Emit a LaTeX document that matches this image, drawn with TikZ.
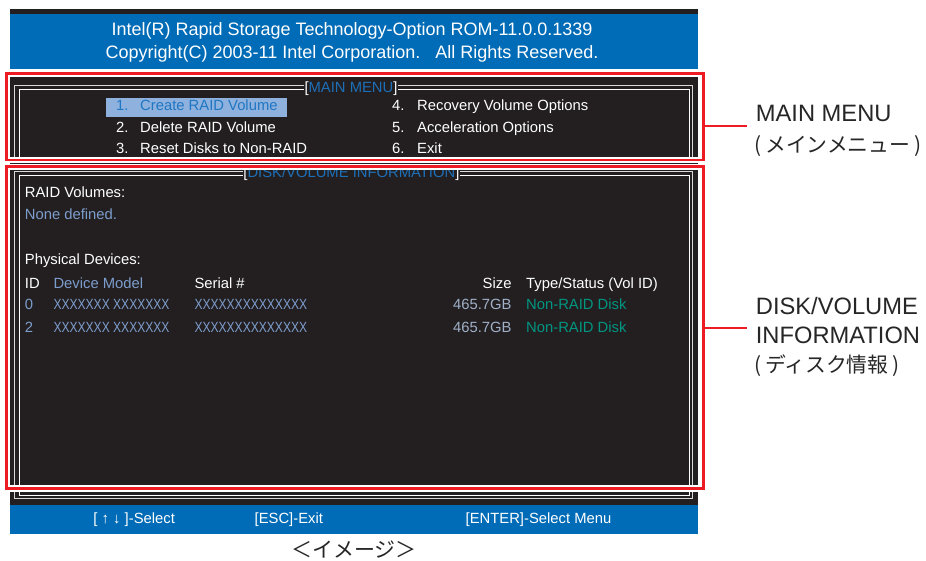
\documentclass[tikz,border=0pt]{standalone}
\usepackage{fontspec}
\setmainfont{Liberation Sans}
\newfontfamily\jpfont{Noto Sans CJK JP}
\usepackage{graphicx}
\usepackage{xcolor}
\usepackage{tikz}

\definecolor{biosblue}{RGB}{0,107,182}
\definecolor{biosdark}{RGB}{35,31,32}
\definecolor{boxred}{RGB}{237,28,36}
\definecolor{titleblue}{RGB}{29,111,184}
\definecolor{hilite}{RGB}{142,177,221}
\definecolor{hilitetext}{RGB}{31,119,196}
\definecolor{steel}{RGB}{125,157,205}
\definecolor{sizegray}{RGB}{160,176,200}
\definecolor{teal}{RGB}{0,150,130}

\newcommand{\xxx}[1]{\scalebox{0.815}[1]{#1}}
\newcommand{\jpparen}[1]{(\kern4pt#1\kern4pt)}

\begin{document}
\begin{tikzpicture}[x=1pt,y=-1pt,
  hdrtext/.style={text=white,font=\fontsize{18}{20}\selectfont,inner sep=0pt,anchor=base},
  scr/.style={text=white,font=\fontsize{14.8}{17}\selectfont,inner sep=0pt,anchor=base west},
  scrblue/.style={scr,text=steel},
  wintitle/.style={fill=biosdark,text=white,font=\fontsize{14.8}{17}\selectfont,inner xsep=0.6pt,inner ysep=0pt,anchor=base},
  keytext/.style={text=white,font=\fontsize{14.8}{17}\selectfont,inner sep=0pt,anchor=base},
  frameout/.style={draw=white!70!gray,line width=0.9pt},
  framein/.style={draw=white,line width=0.9pt},
  redbox/.style={draw=boxred,line width=2.6pt,preaction={draw=white,line width=6.5pt},minimum width=696.7pt,inner sep=0pt},
  redline/.style={draw=boxred,line width=2.2pt},
  callout/.style={text=black!85,font=\fontsize{23.7}{28}\selectfont,inner sep=0pt,anchor=base west},
  calloutjp/.style={text=black!85,font=\jpfont\fontsize{20.8}{24}\selectfont,inner sep=0pt,anchor=west}]
\useasboundingbox (0,0) rectangle (926,561);

% screen background
\fill[biosdark] (10,9.3) rectangle (698,14);
\fill[biosblue] (10,14) rectangle (698,69.3);
\fill[biosdark] (10,71) rectangle (698,505);
\fill[biosblue] (10,505) rectangle (698,533.7);

% header
\node (hdrone) [hdrtext] at (352,35.7) {Intel(R) Rapid Storage Technology-Option ROM-11.0.0.1339};
\node (hdrtwo) [hdrtext] at (352,58.7) {Copyright(C) 2003-11 Intel Corporation.\ \ \ All Rights Reserved.};

% double frames
\draw[frameout] (14.7,160) -- (14.7,85.7) -- (692.7,85.7) -- (692.7,160);
\draw[framein] (19.3,160) -- (19.3,89.3) -- (689.3,89.3) -- (689.3,160);
\draw[frameout] (14.7,171) rectangle (692.7,498.3);
\draw[framein] (19.3,175.5) rectangle (689.3,495);

% main menu
\node (mmtitle) [wintitle] at (351,92.8) {[\textcolor{titleblue}{MAIN MENU}]};
\fill[hilite] (106,98.3) rectangle (286.7,116.7);
\node (numone) [scr,text=hilitetext] at (116,111) {1.};
\node (itemone) [scr,text=hilitetext] at (140,111) {Create RAID Volume};
\node (numtwo) [scr] at (116,132.7) {2.};
\node (itemtwo) [scr] at (140,132.7) {Delete RAID Volume};
\node (numthree) [scr] at (116,153.3) {3.};
\node (itemthree) [scr] at (140,153.3) {Reset Disks to Non-RAID};
\node (numfour) [scr] at (392,111) {4.};
\node (itemfour) [scr] at (417,111) {Recovery Volume Options};
\node (numfive) [scr] at (392,132.7) {5.};
\node (itemfive) [scr] at (417,132.7) {Acceleration Options};
\node (numsix) [scr] at (392,153.3) {6.};
\node (itemsix) [scr] at (417,153.3) {Exit};

% disk/volume information
\node (dvtitle) [wintitle] at (351.4,177.4) {[\textcolor{titleblue}{DISK/VOLUME INFORMATION}]};
\node (raidvol) [scr] at (24.7,197.3) {RAID Volumes:};
\node (nonedef) [scrblue] at (24.7,219.3) {None defined.};
\node (physdev) [scr] at (24.7,265) {Physical Devices:};
\node (colid) [scr] at (24.7,288) {ID};
\node (colmodel) [scrblue] at (53.3,288) {Device Model};
\node (colserial) [scr] at (194.3,288) {Serial \#};
\node (colsize) [scr,anchor=base east] at (511.7,288) {Size};
\node (coltype) [scr] at (526,288) {Type/Status (Vol ID)};

\node (idzero) [scrblue] at (24.7,309.7) {0};
\node (modelzero) [scrblue] at (53.3,309.7) {\xxx{XXXXXXX XXXXXXX}};
\node (serialzero) [scrblue] at (194.3,309.7) {\xxx{XXXXXXXXXXXXXX}};
\node (sizezero) [scr,text=sizegray,anchor=base east] at (511.7,309.7) {465.7GB};
\node (typezero) [scr,text=teal] at (526,309.7) {Non-RAID Disk};

\node (idtwo) [scrblue] at (24.7,332.5) {2};
\node (modeltwo) [scrblue] at (53.3,332.5) {\xxx{XXXXXXX XXXXXXX}};
\node (serialtwo) [scrblue] at (194.3,332.5) {\xxx{XXXXXXXXXXXXXX}};
\node (sizetwo) [scr,text=sizegray,anchor=base east] at (511.7,332.5) {465.7GB};
\node (typetwo) [scr,text=teal] at (526,332.5) {Non-RAID Disk};

% key bar
\node (keysel) [keytext] at (134.2,523.3) {[ ↑ ↓ ]-Select};
\node (keyesc) [keytext] at (288.8,523.3) {[ESC]-Exit};
\node (keyenter) [keytext] at (538.5,523.3) {[ENTER]-Select Menu};

% red callout boxes
\node (mainbox) [redbox,minimum height=86.2pt] at (354.85,116.9) {};
\node (diskbox) [redbox,minimum height=321.5pt] at (354.85,327.55) {};

\coordinate (mmend) at (746.7,125.7);
\coordinate (dvend) at (746.7,328.3);
\draw[redline] (mainbox.east |- mmend) -- (mmend);
\draw[redline] (diskbox.east |- dvend) -- (dvend);

\node (mmlabel) [callout] at (755.7,122) {MAIN MENU};
\node (mmlabeljp) [calloutjp] at (754,146) {\jpparen{メインメニュー}};
\node (dvlabel) [callout] at (755.7,315) {DISK/VOLUME};
\node (dvlabeltwo) [callout] at (755.7,343.3) {INFORMATION};
\node (dvlabeljp) [calloutjp] at (754,365.8) {\jpparen{ディスク情報}};

\node (caption) [font=\jpfont\fontsize{21}{24}\selectfont,text=black!85,inner sep=0pt] at (354,550) {＜イメージ＞};
\end{tikzpicture}
\end{document}
